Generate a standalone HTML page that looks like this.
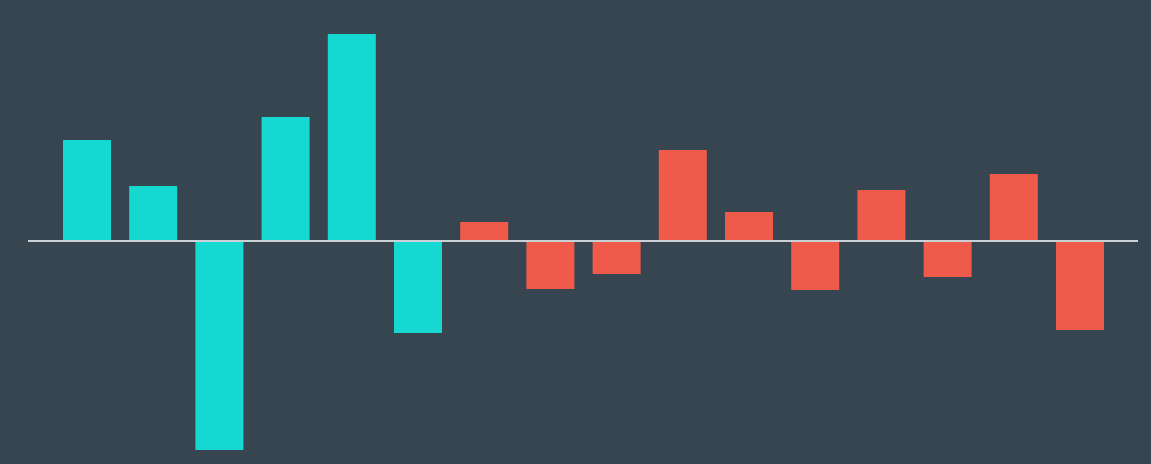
<!DOCTYPE html>
<html>
<head>
<meta charset="utf-8">
<style>
  html,body{margin:0;padding:0;background:#36454f;}
  svg{display:block;}
</style>
</head>
<body>
<svg id="chart" width="1151" height="464" viewBox="0 0 1151 464" xmlns="http://www.w3.org/2000/svg">
  <rect x="0" y="0" width="1151" height="464" fill="#36454f"/>
</svg>
<script>
const categories = ["b1","b2","b3","b4","b5","b6","b7","b8","b9","b10","b11","b12","b13","b14","b15","b16"];
const values = [101, 55, -209, 124, 207, -92, 19, -48, -33, 91, 29, -49, 51, -36, 67, -89];
const groups = ["a","a","a","a","a","a","b","b","b","b","b","b","b","b","b","b"];

const svg = document.getElementById('chart');
const NS = 'http://www.w3.org/2000/svg';
const baseY = 241, pxPerUnit = 1;
const x0 = 63, step = 66.2, barW = 48;
const colors = {a:'#15d9d1', b:'#ef5a4b'};
function xScale(i){ return x0 + i*step; }
function yScale(v){ return baseY - v*pxPerUnit; }

categories.forEach((c,i)=>{
  const v = values[i];
  const r = document.createElementNS(NS,'rect');
  const yTop = Math.min(yScale(v), yScale(0));
  r.setAttribute('x', xScale(i));
  r.setAttribute('y', yTop);
  r.setAttribute('width', barW);
  r.setAttribute('height', Math.abs(yScale(v)-yScale(0)));
  r.setAttribute('fill', colors[groups[i]]);
  
  
  svg.appendChild(r);
});

const line = document.createElementNS(NS,'line');
line.setAttribute('x1', 28);
line.setAttribute('x2', 1138);
line.setAttribute('y1', yScale(0));
line.setAttribute('y2', yScale(0));
line.setAttribute('stroke', '#c9d1d6');
line.setAttribute('stroke-width', 2);


svg.appendChild(line);
</script>
</body>
</html>
